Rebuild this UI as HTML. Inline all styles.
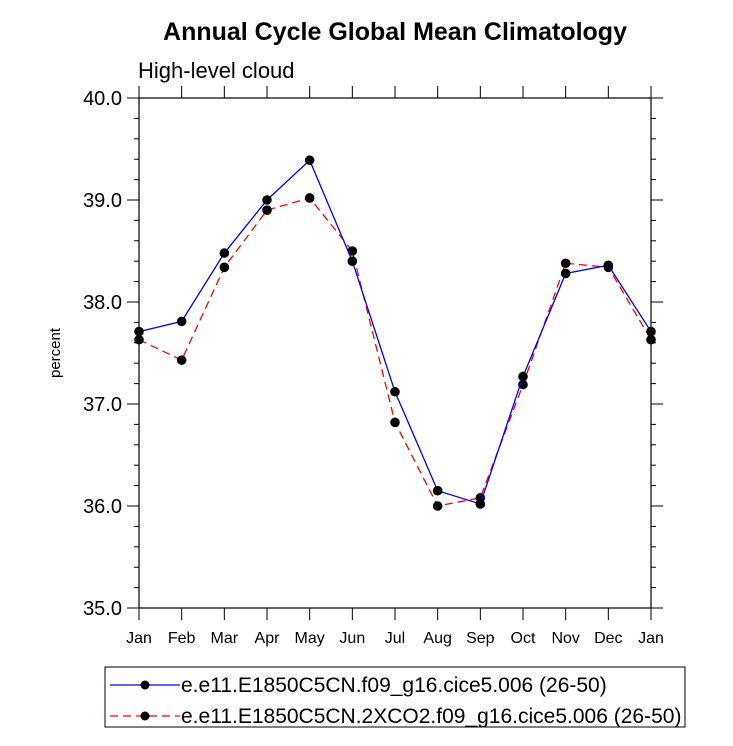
<!DOCTYPE html>
<html><head><meta charset="utf-8"><style>
body{margin:0;background:#fff;}
svg text{font-family:"Liberation Sans",Arial,sans-serif;}
</style></head><body>
<svg id="chart" width="733" height="741" xmlns="http://www.w3.org/2000/svg">
<text x="395" y="40" text-anchor="middle" font-size="25" font-weight="bold">Annual Cycle Global Mean Climatology</text>
<text x="138" y="78" font-size="22">High-level cloud</text>
<text transform="translate(60,353) rotate(-90)" text-anchor="middle" font-size="15">percent</text>
<g id="axes"></g>
<g id="series"></g>
<rect x="105" y="667" width="580" height="60" fill="none" stroke="#000" stroke-width="1"/>
<g>
<line x1="110" y1="685" x2="180" y2="685" stroke="#0000ff" stroke-width="1.3"/>
<circle cx="145" cy="685" r="4.5" fill="#000"/>
<text x="181" y="692" font-size="21">e.e11.E1850C5CN.f09_g16.cice5.006 (26-50)</text>
</g>
<g>
<line x1="110" y1="716" x2="180" y2="716" stroke="#ff0000" stroke-width="1.3" stroke-dasharray="8,5"/>
<circle cx="145" cy="716" r="4.5" fill="#000"/>
<text x="181" y="723" font-size="21">e.e11.E1850C5CN.2XCO2.f09_g16.cice5.006 (26-50)</text>
</g>
</svg>
<script>
const months = ["Jan","Feb","Mar","Apr","May","Jun","Jul","Aug","Sep","Oct","Nov","Dec","Jan"];
const controlValues = [37.71,37.81,38.48,39.00,39.39,38.40,37.12,36.15,36.02,37.27,38.28,38.36,37.71];
const co2Values = [37.63,37.43,38.34,38.90,39.02,38.50,36.82,36.00,36.08,37.19,38.38,38.34,37.63];
const yTicks = [35.0,36.0,37.0,38.0,39.0,40.0];
const yTickLabels = ["35.0","36.0","37.0","38.0","39.0","40.0"];

const X0=139,X1=651,Y0=98,Y1=608,YMIN=35,YMAX=40;
const NS="http://www.w3.org/2000/svg";
function xs(i){return X0+(X1-X0)*i/(months.length-1);}
function ys(v){return Y1-(v-YMIN)/(YMAX-YMIN)*(Y1-Y0);}
function mk(tag,attrs,parent){const e=document.createElementNS(NS,tag);for(const k in attrs)e.setAttribute(k,attrs[k]);parent.appendChild(e);return e;}
const axes=document.getElementById('axes');
const frame=mk('rect',{x:X0,y:Y0,width:X1-X0,height:Y1-Y0,fill:'none',stroke:'#000','stroke-width':1.2},axes);


for(let v=YMIN;v<=YMAX+1e-9;v+=0.2){
  const major=Math.abs(v-Math.round(v))<1e-6;const y=ys(v);const len=major?12:5;
  mk('line',{x1:X0-len,y1:y,x2:X0,y2:y,stroke:'#000','stroke-width':1},axes);
  mk('line',{x1:X1,y1:y,x2:X1+len,y2:y,stroke:'#000','stroke-width':1},axes);
}
yTicks.forEach((v,i)=>{
  const t=mk('text',{x:X0-17,y:ys(v)+7,'text-anchor':'end','font-size':20},axes);
  t.textContent=yTickLabels[i];
  
  
});
months.forEach((m,i)=>{
  const x=xs(i);
  mk('line',{x1:x,y1:Y1,x2:x,y2:Y1+12,stroke:'#000','stroke-width':1},axes);
  mk('line',{x1:x,y1:Y0-12,x2:x,y2:Y0,stroke:'#000','stroke-width':1},axes);
  const t=mk('text',{x:x,y:Y1+35,'text-anchor':'middle','font-size':16},axes);
  t.textContent=m;
  
  
});
const ser=document.getElementById('series');
function drawSeries(vals,color,dash,name){
  const pts=vals.map((v,i)=>xs(i)+','+ys(v)).join(' ');
  const pl=mk('polyline',{points:pts,fill:'none',stroke:color,'stroke-width':1.3},ser);
  if(dash)pl.setAttribute('stroke-dasharray',dash);
  
  
  vals.forEach((v,i)=>{
    const c=mk('circle',{cx:xs(i),cy:ys(v),r:4.8,fill:'#000'},ser);
    
    
  });
}
drawSeries(co2Values,'#ff0000','8,5','co2-series');
drawSeries(controlValues,'#0000ff',null,'control-series');
</script>
</body></html>
